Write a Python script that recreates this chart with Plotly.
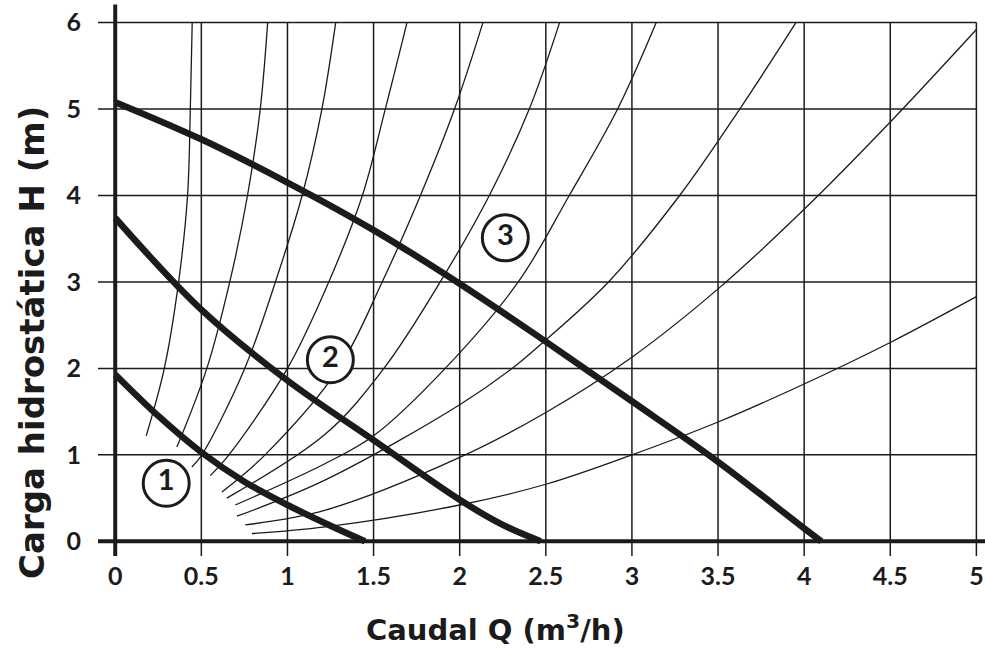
import plotly.graph_objects as go

# ---------------- data ----------------
x_ticks = [0, 0.5, 1, 1.5, 2, 2.5, 3, 3.5, 4, 4.5, 5]
x_tick_labels = ["0", "0.5", "1", "1.5", "2", "2.5", "3", "3.5", "4", "4.5", "5"]
y_ticks = [0, 1, 2, 3, 4, 5, 6]
y_tick_labels = ["0", "1", "2", "3", "4", "5", "6"]

# pump curves (thick)
pump1_q = [0, 0.25, 0.5, 0.75, 1.0, 1.25, 1.45]
pump1_h = [1.93, 1.45, 1.03, 0.69, 0.42, 0.18, 0.0]
pump2_q = [0, 0.5, 1.0, 1.5, 2.0, 2.25, 2.47]
pump2_h = [3.74, 2.68, 1.86, 1.17, 0.48, 0.19, 0.0]
pump3_q = [0, 0.5, 1.0, 1.5, 2.0, 2.5, 3.0, 3.5, 4.0, 4.1]
pump3_h = [5.08, 4.65, 4.15, 3.60, 2.98, 2.31, 1.62, 0.92, 0.15, 0.0]

# system curves (thin)
sysA_q = [0.18, 0.285, 0.368, 0.42, 0.436, 0.447]
sysA_h = [1.22, 2.0, 3.0, 4.0, 5.0, 6.0]
sysB_q = [0.358, 0.532, 0.665, 0.768, 0.842, 0.885]
sysB_h = [1.09, 2.0, 3.0, 4.0, 5.0, 6.0]
sysC_q = [0.445, 0.503, 0.752, 0.93, 1.085, 1.20, 1.28]
sysC_h = [0.86, 1.0, 2.0, 3.0, 4.0, 5.0, 6.0]
sysD_q = [0.552, 0.66, 1.0, 1.24, 1.435, 1.568, 1.694]
sysD_h = [0.76, 1.0, 2.0, 3.0, 4.0, 5.0, 6.0]
sysE_q = [0.619, 0.87, 1.297, 1.55, 1.772, 1.97, 2.135]
sysE_h = [0.57, 1.0, 2.0, 3.0, 4.0, 5.0, 6.0]
sysF_q = [0.648, 1.22, 1.56, 1.887, 2.172, 2.404, 2.58]
sysF_h = [0.50, 1.24, 2.0, 3.0, 4.0, 5.0, 6.0]
sysG_q = [0.697, 1.22, 1.5, 1.916, 2.34, 2.636, 2.917, 3.141]
sysG_h = [0.42, 0.90, 1.22, 2.0, 3.0, 4.0, 5.0, 6.0]
sysH_q = [0.707, 1.22, 2.0, 2.304, 2.46, 2.864, 3.277, 3.626, 3.952]
sysH_h = [0.29, 0.71, 1.58, 2.0, 2.26, 3.0, 4.0, 5.0, 6.0]
sysI_q = [0.755, 1.22, 2.0, 2.5, 3.0, 3.5, 4.0, 4.5, 5.0]
sysI_h = [0.19, 0.36, 0.97, 1.49, 2.13, 2.92, 3.84, 4.85, 5.92]
sysJ_q = [0.794, 1.22, 2.0, 2.5, 3.0, 3.5, 4.0, 4.5, 5.0]
sysJ_h = [0.09, 0.166, 0.42, 0.66, 1.0, 1.38, 1.82, 2.3, 2.83]

curve_labels = ["1", "2", "3"]
label_q = [0.296, 1.249, 2.265]
label_h = [0.672, 2.10, 3.51]

x_title = "Caudal Q (m<sup>3</sup>/h)"
y_title = "Carga hidrostática H (m)"

# ---------------- figure ----------------
INK = "#1b1b1b"
TITLE_FONT = "DejaVu Sans"
fig = go.Figure()

x_min, x_max = -0.1, 5.05
y_min, y_max = -0.17, 6.25

shapes = []
for xv in x_ticks[1:]:
    shapes.append(dict(type="line", xref="x", yref="y", x0=xv, x1=xv,
                       y0=-0.17, y1=y_ticks[-1], line=dict(color=INK, width=1.5), layer="below"))
for yv in y_ticks[1:]:
    shapes.append(dict(type="line", xref="x", yref="y", x0=-0.105, x1=x_ticks[-1],
                       y0=yv, y1=yv, line=dict(color=INK, width=1.5), layer="below"))
shapes.append(dict(type="line", xref="x", yref="y", x0=0, x1=0, y0=-0.17, y1=6.21,
                   line=dict(color=INK, width=4)))
shapes.append(dict(type="line", xref="x", yref="y", x0=-0.105, x1=x_max, y0=0, y1=0,
                   line=dict(color=INK, width=4)))

systems = [(sysA_q, sysA_h), (sysB_q, sysB_h), (sysC_q, sysC_h), (sysD_q, sysD_h),
           (sysE_q, sysE_h), (sysF_q, sysF_h), (sysG_q, sysG_h), (sysH_q, sysH_h),
           (sysI_q, sysI_h), (sysJ_q, sysJ_h)]
for q, h in systems:
    fig.add_trace(go.Scatter(x=q, y=h, mode="lines",
                             line=dict(color=INK, width=1.3, shape="spline", smoothing=1.0),
                             hoverinfo="skip", showlegend=False))

for q, h in [(pump1_q, pump1_h), (pump2_q, pump2_h), (pump3_q, pump3_h)]:
    fig.add_trace(go.Scatter(x=q, y=h, mode="lines",
                             line=dict(color=INK, width=6.5, shape="spline", smoothing=1.0),
                             hoverinfo="skip", showlegend=False))

fig.add_trace(go.Scatter(x=label_q, y=label_h, mode="markers+text", text=curve_labels,
                         textposition="middle center",
                         textfont=dict(family="Lato", size=29, color=INK, weight="bold"),
                         marker=dict(symbol="circle", size=46, color="white",
                                     line=dict(color=INK, width=3)),
                         hoverinfo="skip", showlegend=False, cliponaxis=False))

fig.update_layout(
    width=985, height=650, autosize=False,
    margin=dict(l=98, r=0, t=1, b=94, pad=0),
    paper_bgcolor="white", plot_bgcolor="white",
    shapes=shapes,
    xaxis=dict(range=[x_min, x_max], showgrid=False, zeroline=False, showline=False,
               tickvals=x_ticks, ticktext=x_tick_labels, ticks="",
               tickfont=dict(family="Lato", size=25, color=INK, weight="bold"),
               ticklabelstandoff=3),
    yaxis=dict(range=[y_min, y_max], showgrid=False, zeroline=False, showline=False,
               tickvals=y_ticks, ticktext=y_tick_labels, ticks="",
               tickfont=dict(family="Lato", size=25, color=INK, weight="bold"),
               ticklabelstandoff=16),
    annotations=[
        dict(text=x_title, xref="paper", yref="paper", x=(495 - 98) / 887, y=(556 - 628) / 555,
             xanchor="center", yanchor="middle", showarrow=False,
             font=dict(family=TITLE_FONT, size=29, color=INK, weight="bold")),
        dict(text=y_title, xref="paper", yref="paper", x=(32 - 98) / 887, y=(556 - 343) / 555,
             xanchor="center", yanchor="middle", showarrow=False, textangle=-90,
             font=dict(family=TITLE_FONT, size=34, color=INK, weight="bold")),
    ],
)

fig.write_html("out.html", config={"displayModeBar": False},
               post_script="document.body.style.margin='0px';")
